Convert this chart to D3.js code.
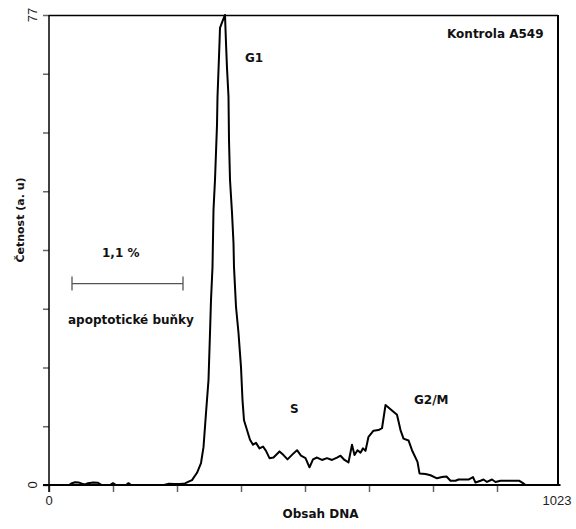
<!DOCTYPE html>
<html>
<head>
<meta charset="utf-8">
<script src="https://cdn.jsdelivr.net/npm/d3@7"></script>
<style>
  body { margin: 0; background: #fff; }
  .histogram__label { font-family: "DejaVu Sans", sans-serif; font-weight: bold; font-size: 12px; fill: #111; }
  .histogram__tick-label { font-family: "Liberation Sans", Arial, sans-serif; font-size: 13px; fill: #222; }
</style>
</head>
<body>
<div id="chart"></div>
<script>
// DNA histogram, channel (0-1023) vs count
const channels = [0, 40, 46, 52, 60, 66, 72, 78, 88, 98,
  104, 122, 128, 134, 154, 159, 164, 230, 240, 250,
  262, 272, 278, 286, 296, 304, 309, 314, 319, 322,
  324, 327, 329, 332, 336, 337, 339, 341, 342, 348,
  352, 354, 356, 359, 360, 362, 366, 369, 370, 374,
  379, 384, 387, 390, 396, 402, 408, 414, 421, 428,
  434, 441, 449, 461, 469, 477, 488, 496, 504, 513,
  521, 528, 536, 546, 556, 566, 576, 583, 591, 599,
  606, 611, 617, 623, 628, 633, 639, 649, 659, 666,
  673, 683, 696, 703, 709, 719, 726, 737, 741, 753,
  763, 776, 786, 795, 803, 813, 819, 839, 848, 853,
  863, 869, 876, 886, 893, 903, 916, 940, 948, 953,
  1023];
const counts = [0, 0, 0.3, 0.45, 0.4, 0.2, 0.1, 0.3, 0.4, 0.35,
  0.05, 0, 0.3, 0, 0, 0.3, 0, 0, 0.2, 0.15,
  0.15, 0.25, 0.5, 0.8, 2.0, 3.6, 6.2, 11.8, 17.2, 24.9,
  30.3, 35.7, 45.1, 50.0, 59.0, 63.6, 68.0, 72.4, 74.9, 76.2,
  77, 72.4, 68.3, 63.6, 56.5, 50.0, 44.6, 39.6, 35.7, 29.2,
  24.9, 19.3, 13.9, 10.6, 9.0, 7.4, 6.6, 6.9, 6.0, 6.3,
  5.6, 4.4, 4.5, 5.5, 4.9, 4.2, 5.1, 5.7, 4.8, 4.4,
  2.9, 4.2, 4.5, 4.1, 4.4, 4.1, 4.5, 4.8, 4.1, 3.7,
  6.6, 4.9, 5.7, 5.3, 6.0, 5.6, 7.9, 8.9, 9.0, 9.3,
  13.1, 12.4, 11.5, 9.0, 7.6, 7.3, 5.7, 3.8, 1.9, 1.8,
  1.6, 1.1, 1.3, 1.4, 0.7, 0.7, 0.9, 0.9, 1.3, 0.4,
  0.7, 0.9, 0.5, 0.9, 0.5, 0.7, 0.7, 0.7, 0.3, 0,
  0];

const xTicks = [0, 128, 256, 384, 512, 640, 768, 896];
const xTickLabels = [0, 1023];
const yTicks = d3.range(9).map((i) => i * 77 / 8);
const yTickLabels = [0, 77];

const apoptoticRange = [46, 268];
const apoptoticLevel = 33;
const apoptoticShare = `1,1 %`;

class Histogram {
  constructor(el) {
    this.el = el;
    this.width = 576;
    this.height = 529;
    this.left = 49;
    this.top = 15;
    this.bottom = 485;
    this.frameRight = 558;
    this.x = d3.scaleLinear().domain([0, 1023]).range([this.left, 560.5]);
    this.y = d3.scaleLinear().domain([0, 77]).range([this.bottom, this.top]);
  }

  render() {
    this.svg = d3.select(this.el).append(`svg`)
        .attr(`width`, this.width)
        .attr(`height`, this.height);

    this.drawAxes();
    this.drawCurve();
    this.drawLabels();
  }

  drawAxes() {
    const g = this.svg.append(`g`);

    // frame
    g.append(`line`)
        .attr(`x1`, this.left).attr(`x2`, this.frameRight)
        .attr(`y1`, this.top + 0.5).attr(`y2`, this.top + 0.5)
        .attr(`stroke`, `#000`).attr(`stroke-width`, 1.5);
    g.append(`line`)
        .attr(`x1`, this.frameRight).attr(`x2`, this.frameRight)
        .attr(`y1`, this.top).attr(`y2`, this.bottom)
        .attr(`stroke`, `#000`).attr(`stroke-width`, 2);

    const yAxis = d3.axisLeft(this.y)
        .tickValues(yTicks)
        .tickSize(6)
        .tickFormat(``);
    g.append(`g`)
        .attr(`transform`, `translate(${this.left},0)`)
        .call(yAxis)
        .call((s) => s.select(`.domain`).remove())
        .call((s) => s.selectAll(`.tick line`).attr(`stroke`, `#666`).attr(`stroke-width`, 1.5));

    const xAxis = d3.axisBottom(this.x)
        .tickValues(xTicks)
        .tickSize(7)
        .tickFormat(``);
    g.append(`g`)
        .attr(`transform`, `translate(0,${this.bottom})`)
        .call(xAxis)
        .call((s) => s.select(`.domain`).remove())
        .call((s) => s.selectAll(`.tick line`).attr(`stroke`, `#666`).attr(`stroke-width`, 1.5));

    // axis lines
    g.append(`line`)
        .attr(`x1`, this.left).attr(`x2`, this.left)
        .attr(`y1`, this.top).attr(`y2`, this.bottom + 7)
        .attr(`stroke`, `#000`).attr(`stroke-width`, 1.5);
    g.append(`line`)
        .attr(`x1`, this.left - 6).attr(`x2`, this.frameRight)
        .attr(`y1`, this.bottom).attr(`y2`, this.bottom)
        .attr(`stroke`, `#000`).attr(`stroke-width`, 2);

    // tick labels
    g.selectAll(`.y-label`)
        .data(yTickLabels)
      .enter().append(`text`)
        .attr(`class`, `histogram__tick-label`)
        .attr(`text-anchor`, `middle`)
        .attr(`transform`, (d) => `translate(37,${this.y(d)}) rotate(-90)`)
        .text((d) => d);

    g.selectAll(`.x-label`)
        .data(xTickLabels)
      .enter().append(`text`)
        .attr(`class`, `histogram__tick-label`)
        .attr(`text-anchor`, `middle`)
        .attr(`x`, (d) => d === 1023 ? this.frameRight - 1 : this.x(d))
        .attr(`y`, this.bottom + 20)
        .text((d) => d);
  }

  drawCurve() {
    const points = channels.map((c, i) => [c, counts[i]]);
    const line = d3.line()
        .x((d) => this.x(d[0]))
        .y((d) => this.y(d[1]));

    this.svg.append(`path`)
        .datum(points)
        .attr(`d`, line)
        .attr(`fill`, `none`)
        .attr(`stroke`, `#000`)
        .attr(`stroke-width`, 2)
        .attr(`stroke-linejoin`, `round`);

    // apoptotic range marker
    const y = this.y(apoptoticLevel);
    const g = this.svg.append(`g`).attr(`stroke`, `#555`).attr(`stroke-width`, 1.3);
    g.append(`line`)
        .attr(`x1`, this.x(apoptoticRange[0])).attr(`x2`, this.x(apoptoticRange[1]))
        .attr(`y1`, y).attr(`y2`, y);
    g.selectAll(`.end`)
        .data(apoptoticRange)
      .enter().append(`line`)
        .attr(`x1`, (d) => this.x(d)).attr(`x2`, (d) => this.x(d))
        .attr(`y1`, y - 7).attr(`y2`, y + 7);
  }

  drawLabels() {
    const labels = [
      { text: `G1`, x: 245, y: 62 },
      { text: `Kontrola A549`, x: 447, y: 38 },
      { text: apoptoticShare, x: 102, y: 257 },
      { text: `apoptotické buňky`, x: 68, y: 324 },
      { text: `S`, x: 290, y: 413 },
      { text: `G2/M`, x: 414, y: 404 }
    ];

    this.svg.selectAll(`.note`)
        .data(labels)
      .enter().append(`text`)
        .attr(`class`, `histogram__label`)
        .attr(`x`, (d) => d.x)
        .attr(`y`, (d) => d.y)
        .text((d) => d.text);

    this.svg.append(`text`)
        .attr(`class`, `histogram__label`)
        .attr(`text-anchor`, `middle`)
        .attr(`x`, 320.5)
        .attr(`y`, 518)
        .text(`Obsah DNA`);

    this.svg.append(`text`)
        .attr(`class`, `histogram__label`)
        .attr(`text-anchor`, `middle`)
        .style(`font-size`, `11px`)
        .attr(`transform`, `translate(24,220) rotate(-90)`)
        .text(`Četnost (a. u)`);
  }
}

new Histogram(`#chart`).render();
</script>
</body>
</html>
